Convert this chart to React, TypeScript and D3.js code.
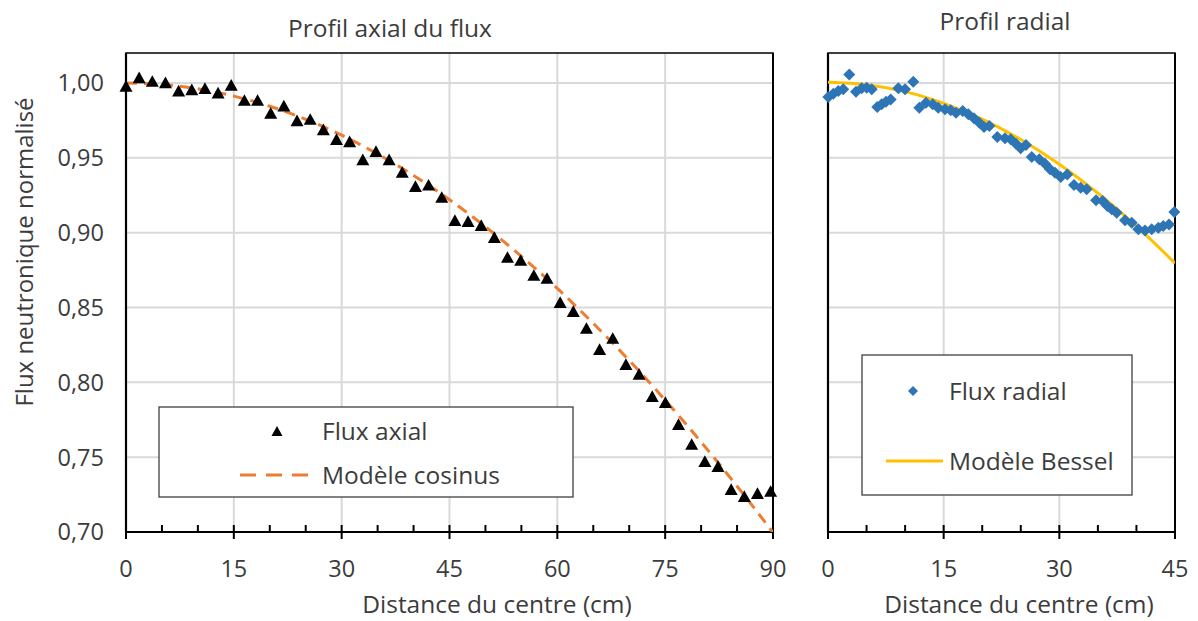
import React from 'react';
import * as d3 from 'd3';

// ---------- data ----------
const yTickValues = [0.7, 0.75, 0.8, 0.85, 0.9, 0.95, 1.0];
const leftXTicks = [0, 15, 30, 45, 60, 75, 90];
const rightXTicks = [0, 15, 30, 45];

const axialX = [0, 1.83, 3.66, 5.49, 7.32, 9.15, 10.98, 12.81, 14.64, 16.47, 18.3, 20.13, 21.96, 23.79, 25.62, 27.45, 29.28, 31.11, 32.94, 34.77, 36.6, 38.43, 40.26, 42.09, 43.92, 45.75, 47.58, 49.41, 51.24, 53.07, 54.9, 56.73, 58.56, 60.39, 62.22, 64.05, 65.88, 67.71, 69.54, 71.37, 73.2, 75.03, 76.86, 78.69, 80.52, 82.35, 84.18, 86.01, 87.84, 89.67];
const axialFlux = [0.998, 1.0037, 1.0013, 1.0004, 0.9948, 0.9957, 0.9966, 0.9935, 0.9987, 0.9886, 0.9886, 0.98, 0.9848, 0.975, 0.9759, 0.969, 0.9625, 0.961, 0.949, 0.9545, 0.949, 0.9405, 0.931, 0.932, 0.9238, 0.9084, 0.9077, 0.905, 0.897, 0.8837, 0.8817, 0.8717, 0.8697, 0.8536, 0.8476, 0.8363, 0.8222, 0.8296, 0.8122, 0.8056, 0.7908, 0.7868, 0.7721, 0.7588, 0.7474, 0.744, 0.7287, 0.724, 0.726, 0.7274];

const cosModelX = [0, 5, 10, 15, 20, 25, 30, 35, 40, 45, 50, 55, 60, 65, 70, 75, 80, 85, 90];
const cosModelY = [1.0, 0.999, 0.9961, 0.9912, 0.9844, 0.9757, 0.9651, 0.9525, 0.9382, 0.922, 0.9039, 0.8842, 0.8627, 0.8394, 0.8146, 0.7881, 0.7601, 0.7306, 0.6997];

const radialX = [0.04, 0.69, 1.34, 1.98, 2.76, 3.63, 4.37, 5.02, 5.67, 6.39, 6.96, 7.52, 8.13, 9.12, 9.99, 11.06, 11.84, 12.71, 13.58, 14.3, 15.17, 15.91, 16.6, 17.47, 18.2, 18.93, 19.62, 20.23, 20.92, 21.96, 22.95, 23.69, 24.38, 24.99, 25.68, 26.42, 27.4, 28.14, 28.79, 29.44, 30.18, 31.03, 31.9, 32.77, 33.55, 34.76, 35.62, 36.22, 36.79, 37.44, 38.52, 39.39, 40.24, 41.11, 41.98, 42.84, 43.48, 44.22, 44.91];
const radialFlux = [0.9906, 0.9928, 0.9946, 0.9957, 1.0057, 0.9941, 0.9964, 0.9968, 0.9957, 0.9839, 0.9857, 0.9874, 0.989, 0.9964, 0.9957, 1.0008, 0.9834, 0.9868, 0.9857, 0.9834, 0.9824, 0.9817, 0.9801, 0.9812, 0.979, 0.9764, 0.9734, 0.9705, 0.9712, 0.9639, 0.963, 0.9623, 0.9594, 0.9563, 0.9585, 0.9505, 0.949, 0.946, 0.9423, 0.94, 0.9371, 0.9389, 0.9318, 0.93, 0.9289, 0.9216, 0.9211, 0.9178, 0.9156, 0.9133, 0.9082, 0.9066, 0.9022, 0.9015, 0.9022, 0.9033, 0.9044, 0.9055, 0.9138];

const besselX = [0, 5, 10, 15, 20, 25, 30, 35, 40, 45];
const besselY = [1.0004, 0.9988, 0.9942, 0.9864, 0.9758, 0.9622, 0.9457, 0.9264, 0.9044, 0.8796];

const titleLeft = 'Profil axial du flux';
const titleRight = 'Profil radial';
const xAxisTitle = 'Distance du centre (cm)';
const yAxisTitle = 'Flux neutronique normalisé';
const legendAxial = ['Flux axial', 'Modèle cosinus'];
const legendRadial = ['Flux radial', 'Modèle Bessel'];

// ---------- styles ----------
const FONT = '"Open Sans", sans-serif';
const TEXT = '#3c3c3c';
const GRID = '#d9d9d9';
const ORANGE = '#ED7D31';
const BLUE = '#2E75B6';
const GOLD = '#FFC000';
const TICK_FS = 23.5;
const LABEL_FS = 24.5;

const TOP = 53;
const BOTTOM = 532;

function triPath(cx: number, cy: number, s: number) {
  const h = s * 0.9;
  return `M${cx},${cy - h / 2}L${cx + s / 2},${cy + h / 2}L${cx - s / 2},${cy + h / 2}Z`;
}
function diaPath(cx: number, cy: number, r: number) {
  return `M${cx},${cy - r}L${cx + r},${cy}L${cx},${cy + r}L${cx - r},${cy}Z`;
}

function Panel(props: {
  x: d3.ScaleLinear<number, number>;
  y: d3.ScaleLinear<number, number>;
  majors: number[];
  minorMax: number;
  clipId: string;
}) {
  const { x, y, majors, minorMax, clipId } = props;
  const [x0, x1] = x.range();
  const minors = d3.range(0, minorMax + 0.001, 5).filter((v) => !majors.includes(v));
  return (
    <g>
      <defs>
        <clipPath id={clipId}>
          <rect x={x0} y={TOP} width={x1 - x0} height={BOTTOM - TOP} />
        </clipPath>
      </defs>
      {majors.filter((v) => v > 0 && v < minorMax).map((v) => (
        <line key={'vg' + v} x1={x(v)} x2={x(v)} y1={TOP} y2={BOTTOM} stroke={GRID} strokeWidth={2} />
      ))}
      {yTickValues.filter((v) => v > 0.7).map((v) => (
        <line key={'hg' + v} x1={x0} x2={x1} y1={y(v)} y2={y(v)} stroke={GRID} strokeWidth={2} />
      ))}
      <rect x={x0} y={TOP} width={x1 - x0} height={BOTTOM - TOP} fill="none" stroke="#000" strokeWidth={1.5} />
      <line x1={x0} x2={x0} y1={TOP} y2={BOTTOM} stroke="#000" strokeWidth={2.2} />
      <line x1={x0} x2={x1} y1={BOTTOM} y2={BOTTOM} stroke="#000" strokeWidth={2.2} />
      <line x1={x1} x2={x1} y1={TOP} y2={BOTTOM} stroke="#000" strokeWidth={2} />
      {majors.map((v) => (
        <line key={'mt' + v} x1={x(v)} x2={x(v)} y1={BOTTOM - 7} y2={BOTTOM + 7} stroke="#000" strokeWidth={2} />
      ))}
      {minors.map((v) => (
        <line key={'mn' + v} x1={x(v)} x2={x(v)} y1={BOTTOM - 7} y2={BOTTOM} stroke="#000" strokeWidth={2} />
      ))}
      {majors.map((v) => (
        <text key={'tl' + v} x={x(v)} y={577} textAnchor="middle" fontSize={TICK_FS} fill={TEXT} fontFamily={FONT}>
          {v}
        </text>
      ))}
    </g>
  );
}

export default function App() {
  const W = 1198;
  const H = 621;
  const y = d3.scaleLinear().domain([0.7, 1.02]).range([BOTTOM, TOP]);
  const xL = d3.scaleLinear().domain([0, 90]).range([126, 773]);
  const xR = d3.scaleLinear().domain([0, 45]).range([828, 1175]);

  const cosLine = d3
    .line<number>()
    .x((_, i) => xL(cosModelX[i]))
    .y((d) => y(d))
    .curve(d3.curveMonotoneX);
  const besselLine = d3
    .line<number>()
    .x((_, i) => xR(besselX[i]))
    .y((d) => y(d))
    .curve(d3.curveMonotoneX);

  const fmt = (v: number) => v.toFixed(2).replace('.', ',');

  return (
    <svg
      width={W}
      height={H}
      viewBox={`0 0 ${W} ${H}`}
      style={{ position: 'absolute', left: 0, top: 0, background: '#fff' }}
      fontFamily={FONT}
    >
      <rect x={0} y={0} width={W} height={H} fill="#fff" />

      {/* Left panel */}
      <Panel x={xL} y={y} majors={leftXTicks} minorMax={90} clipId="clipL" />
      <g clipPath="url(#clipL)">
        <path d={cosLine(cosModelY) || ''} fill="none" stroke={ORANGE} strokeWidth={3} strokeDasharray="11 7" />
      </g>
      {axialFlux.map((v, i) => (
        <path key={'a' + i} d={triPath(xL(axialX[i]), y(v), 13)} fill="#000" />
      ))}

      {/* Right panel */}
      <Panel x={xR} y={y} majors={rightXTicks} minorMax={45} clipId="clipR" />
      <g clipPath="url(#clipR)">
        <path d={besselLine(besselY) || ''} fill="none" stroke={GOLD} strokeWidth={3} />
      </g>
      {radialFlux.map((v, i) => (
        <path key={'r' + i} d={diaPath(xR(radialX[i]), y(v), 6)} fill={BLUE} />
      ))}

      {/* Y tick labels */}
      {yTickValues.map((v) => (
        <text key={'yt' + v} x={104} y={y(v)} dy="0.36em" textAnchor="end" fontSize={TICK_FS} fill={TEXT}>
          {fmt(v)}
        </text>
      ))}

      {/* Titles */}
      <text x={390} y={37} textAnchor="middle" fontSize={LABEL_FS} fill={TEXT}>
        {titleLeft}
      </text>
      <text x={1005} y={30} textAnchor="middle" fontSize={LABEL_FS} fill={TEXT}>
        {titleRight}
      </text>
      <text x={497} y={613} textAnchor="middle" fontSize={LABEL_FS} fill={TEXT}>
        {xAxisTitle}
      </text>
      <text x={1019} y={613} textAnchor="middle" fontSize={LABEL_FS} fill={TEXT}>
        {xAxisTitle}
      </text>
      <text
        transform={`translate(33, 252) rotate(-90)`}
        textAnchor="middle"
        fontSize={24}
        fill={TEXT}
      >
        {yAxisTitle}
      </text>

      {/* Left legend */}
      <rect x={159} y={407} width={414} height={90} fill="#fff" stroke="#404040" strokeWidth={1.3} />
      <path d={triPath(277, 431, 11)} fill="#000" />
      <text x={322} y={431} dy="0.36em" fontSize={LABEL_FS} fill={TEXT}>
        {legendAxial[0]}
      </text>
      <line x1={240} x2={313} y1={475} y2={475} stroke={ORANGE} strokeWidth={3} strokeDasharray="16 10" />
      <text x={322} y={475} dy="0.36em" fontSize={LABEL_FS} fill={TEXT}>
        {legendAxial[1]}
      </text>

      {/* Right legend */}
      <rect x={862} y={355} width={270} height={140} fill="#fff" stroke="#404040" strokeWidth={1.3} />
      <path d={diaPath(913, 391, 5)} fill={BLUE} />
      <text x={949} y={391} dy="0.36em" fontSize={LABEL_FS} fill={TEXT}>
        {legendRadial[0]}
      </text>
      <line x1={886} x2={943} y1={461} y2={461} stroke={GOLD} strokeWidth={3} />
      <text x={949} y={461} dy="0.36em" fontSize={LABEL_FS} fill={TEXT}>
        {legendRadial[1]}
      </text>
    </svg>
  );
}
